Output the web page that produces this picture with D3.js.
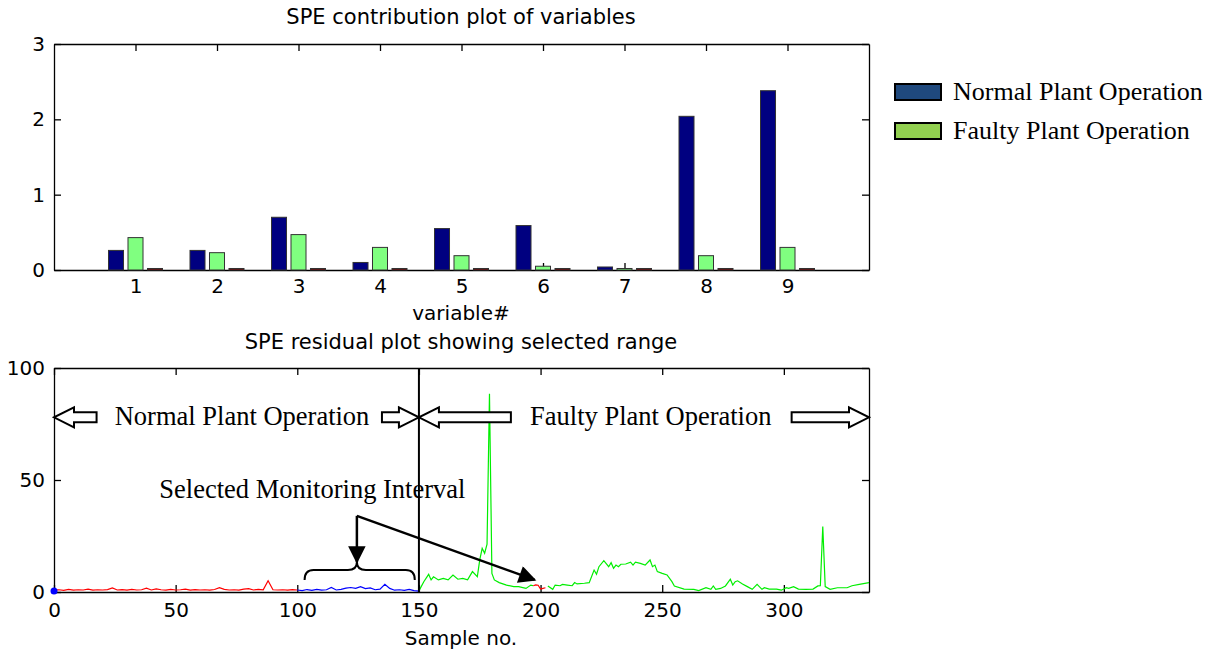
<!doctype html>
<html>
<head>
<script src="https://cdnjs.cloudflare.com/ajax/libs/d3/7.8.5/d3.min.js"></script>
<style>
  body { margin: 0; background: #fff; }
  .sans { font-family: "DejaVu Sans", sans-serif; fill: #000; }
  .serif { font-family: "Liberation Serif", "Times New Roman", serif; fill: #000; }
  .axis path, .axis line { stroke: #000; stroke-width: 1.3; }
  .axis text { font-family: "DejaVu Sans", sans-serif; font-size: 20px; fill: #000; }
</style>
</head>
<body>
<svg id="viz" width="1222" height="649"></svg>
<script>
// ---- top chart data: SPE contribution per variable
var variables = [1, 2, 3, 4, 5, 6, 7, 8, 9];
var normalContrib = [0.26, 0.26, 0.70, 0.10, 0.55, 0.59, 0.04, 2.04, 2.38];
var faultyContrib = [0.43, 0.23, 0.47, 0.30, 0.19, 0.05, 0.02, 0.19, 0.30];
var thirdContrib  = [0.02, 0.02, 0.02, 0.02, 0.02, 0.02, 0.02, 0.02, 0.02];
var barColors = ["#000080", "#80ff80", "#800000"];
var legendLabels = ["Normal Plant Operation", "Faulty Plant Operation"];
var legendColors = ["#1f497d", "#92d050"];
var topYTicks = [0, 1, 2, 3];

// ---- bottom chart data: SPE residual per sample
var redSamples = [0,2,4,6,8,10,12,14,16,18,20,22,24,26,28,30,32,34,36,38,40,42,44,46,48,50,52,54,56,58,60,62,64,66,68,70,72,74,76,78,80,82,84,86,88,90,92,94,96,98,100];
var redValues  = [0.8,1.0,0.7,1.2,0.8,1.0,0.9,1.3,0.8,1.0,0.9,1.1,1.8,0.9,1.1,0.8,1.2,0.9,1.0,1.7,0.9,1.4,1.0,0.8,1.2,0.9,1.0,1.3,0.8,1.1,0.9,1.0,0.8,1.1,1.9,1.2,0.9,1.0,0.8,1.3,1.5,0.9,1.2,1.0,5.0,1.0,0.9,1.0,0.8,1.1,0.9];
var blueSamples = [100,102,104,106,108,110,112,114,116,118,120,122,124,126,128,130,132,134,136,138,140,142,144,146,148,150];
var blueValues  = [0.9,0.6,1.1,0.7,1.2,0.8,1.0,2.0,0.9,1.2,1.7,2.0,1.6,2.4,1.5,1.8,1.0,1.3,3.4,1.6,0.8,1.0,0.7,1.2,0.6,0.4];
var greenSamplesA = [150,152,154,155,156,158,160,162,164,166,168,170,172,174,175,176,177,178,179,180,181,183,186,189,191,194,196,197];
var greenValuesA  = [0.5,4.6,7.9,5.4,6.8,5.4,6.1,5.4,7.6,5.7,6.1,5.4,9.1,6.8,14.3,19.5,17.3,21.4,88.5,8.3,5.4,4.2,3.1,2.4,2.4,1.6,3.1,2.8];
var markSamples = [197,198,199,200,201,202];
var markValues  = [2.8,3.2,3.0,1.3,1.6,1.9];
var greenSamplesB = [203,205,206,208,209,211,213,214,215,218,220,222,223,224,226,228,229,230,231,232,233,235,237,238,239,241,243,245,246,247,248,250,252,254,255,259,263,265,268,270,271,272,274,276,278,279,280,281,283,285,287,289,291,292,294,297,299,301,302,304,306,309,312,314,315,316,317,319,322,326,328,331,335];
var greenValuesB  = [2.7,1.2,3.1,2.8,3.4,3.1,2.8,4.2,3.6,3.9,4.2,9.8,7.9,11.3,14.0,11.3,13.1,10.6,12.0,11.3,12.4,12.5,13.3,12.0,13.3,12.8,12.0,14.3,11.3,12.0,9.1,8.3,7.6,4.6,2.7,1.3,1.2,0.6,1.9,1.2,2.7,1.2,1.6,2.7,5.7,3.1,4.6,5.0,3.6,2.4,1.2,3.4,1.2,1.9,1.3,1.3,0.8,1.9,1.6,2.4,1.3,1.2,1.3,2.7,2.8,29.2,2.4,1.2,1.9,1.9,2.8,3.4,4.2];
var bottomXTicks = [0, 50, 100, 150, 200, 250, 300];
var bottomYTicks = [0, 50, 100];
var faultStart = 150;

var svg = d3.select("#viz");

// ================= top chart =================
var xTop = d3.scaleLinear().domain([0, 10]).range([54, 869]);
var yTop = d3.scaleLinear().domain([0, 3]).range([270, 44]);
var sub = d3.scaleBand().domain([0, 1, 2]).range([-27, 27]).paddingInner(0.23);

svg.append("g").attr("class", "axis").attr("transform", "translate(0,270)")
  .call(d3.axisBottom(xTop).tickValues(variables).tickSize(-7).tickPadding(9).tickSizeOuter(0));
svg.append("g").attr("class", "axis").attr("transform", "translate(0,44)")
  .call(d3.axisTop(xTop).tickValues(variables).tickSize(-7).tickFormat("").tickSizeOuter(0));
svg.append("g").attr("class", "axis").attr("transform", "translate(54,0)")
  .call(d3.axisLeft(yTop).tickValues(topYTicks).tickFormat(d3.format("d")).tickSize(-7).tickPadding(9).tickSizeOuter(0));
svg.append("g").attr("class", "axis").attr("transform", "translate(869,0)")
  .call(d3.axisRight(yTop).tickValues(topYTicks).tickSize(-7).tickFormat("").tickSizeOuter(0));

var series = [normalContrib, faultyContrib, thirdContrib];
series.forEach(function(vals, si) {
  svg.append("g").selectAll("rect")
    .data(vals)
    .enter()
    .append("rect")
    .attr("x", (d, i) => xTop(variables[i]) + sub(si))
    .attr("width", sub.bandwidth())
    .attr("y", d => yTop(d))
    .attr("height", d => yTop(0) - yTop(d))
    .style("fill", barColors[si])
    .style("stroke", "#333")
    .style("stroke-width", 1);
});

svg.append("text").attr("class", "sans").attr("x", 461).attr("y", 24)
  .attr("text-anchor", "middle").style("font-size", "21px").text("SPE contribution plot of variables");
svg.append("text").attr("class", "sans").attr("x", 461).attr("y", 320)
  .attr("text-anchor", "middle").style("font-size", "20px").text("variable#");

// legend
var leg = svg.append("g").selectAll("g").data(legendLabels).enter().append("g")
  .attr("transform", (d, i) => "translate(895," + (84 + i * 39) + ")");
leg.append("rect").attr("width", 46).attr("height", 16)
  .style("fill", (d, i) => legendColors[i]).style("stroke", "#000").style("stroke-width", 2);
leg.append("text").attr("class", "serif").attr("x", 58).attr("y", 16)
  .style("font-size", "26px").text(d => d);

// ================= bottom chart =================
var xBot = d3.scaleLinear().domain([0, 335]).range([54, 869]);
var yBot = d3.scaleLinear().domain([0, 100]).range([592, 368]);

svg.append("g").attr("class", "axis").attr("transform", "translate(0,592)")
  .call(d3.axisBottom(xBot).tickValues(bottomXTicks).tickSize(-7).tickPadding(11).tickSizeOuter(0));
svg.append("g").attr("class", "axis").attr("transform", "translate(0,368)")
  .call(d3.axisTop(xBot).tickValues(bottomXTicks).tickSize(-7).tickFormat("").tickSizeOuter(0));
svg.append("g").attr("class", "axis").attr("transform", "translate(54,0)")
  .call(d3.axisLeft(yBot).tickValues(bottomYTicks).tickSize(-7).tickPadding(9).tickSizeOuter(0));
svg.append("g").attr("class", "axis").attr("transform", "translate(869,0)")
  .call(d3.axisRight(yBot).tickValues(bottomYTicks).tickSize(-7).tickFormat("").tickSizeOuter(0));

var line = d3.line().x(d => xBot(d[0])).y(d => yBot(d[1]));
function drawSeries(s, v, color) {
  svg.append("path").datum(d3.zip(s, v)).attr("d", line)
    .style("fill", "none").style("stroke", color).style("stroke-width", 1.2);
}
drawSeries(redSamples, redValues, "#ff0000");
drawSeries(blueSamples, blueValues, "#0000ff");
drawSeries(greenSamplesA, greenValuesA, "#00ee00");
drawSeries(markSamples, markValues, "#ff0000");
drawSeries(greenSamplesB, greenValuesB, "#00ee00");
svg.append("circle").attr("cx", xBot(redSamples[0])).attr("cy", yBot(0.5)).attr("r", 3.5)
  .style("fill", "#0000ff");

// fault start divider
svg.append("line").attr("x1", xBot(faultStart)).attr("x2", xBot(faultStart))
  .attr("y1", yBot(100)).attr("y2", yBot(0)).style("stroke", "#000").style("stroke-width", 2);

// block arrows
function blockArrow(x0, x1, y) {
  var dir = Math.sign(x1 - x0), head = 20, hh = 10, sh = 5;
  var xb = x1 - dir * head;
  return "M" + x0 + "," + (y - sh) + "L" + xb + "," + (y - sh) + "L" + xb + "," + (y - hh) +
    "L" + x1 + "," + y + "L" + xb + "," + (y + hh) + "L" + xb + "," + (y + sh) + "L" + x0 + "," + (y + sh) + "Z";
}
var arrowLevel = 78;
var blockArrows = [[17.5, 0], [134.8, 150], [187.8, 150], [303.2, 335]];
svg.append("g").selectAll("path").data(blockArrows).enter().append("path")
  .attr("d", d => blockArrow(xBot(d[0]), xBot(d[1]), yBot(arrowLevel)))
  .style("fill", "#fff").style("stroke", "#000").style("stroke-width", 2);

svg.append("text").attr("class", "serif").attr("x", xBot(77.3)).attr("y", yBot(74.5))
  .attr("text-anchor", "middle").style("font-size", "26.5px").text("Normal Plant Operation");
svg.append("text").attr("class", "serif").attr("x", xBot(245.3)).attr("y", yBot(74.5))
  .attr("text-anchor", "middle").style("font-size", "26.5px").text("Faulty Plant Operation");
svg.append("text").attr("class", "serif").attr("x", xBot(106.2)).attr("y", yBot(42))
  .attr("text-anchor", "middle").style("font-size", "26.5px").text("Selected Monitoring Interval");

// callout arrows
svg.append("defs").append("marker").attr("id", "tri")
  .attr("viewBox", "0 0 10 10").attr("refX", 9).attr("refY", 5)
  .attr("markerWidth", 7.5).attr("markerHeight", 7).attr("markerUnits", "strokeWidth")
  .attr("orient", "auto")
  .append("path").attr("d", "M0,0L10,5L0,10Z").style("fill", "#000");
var corner = [124.5, 34];
var callTargets = [[124.5, 13.4], [197.6, 5.4]];
callTargets.forEach(function(t) {
  svg.append("line").attr("x1", xBot(corner[0])).attr("y1", yBot(corner[1]))
    .attr("x2", xBot(t[0])).attr("y2", yBot(t[1]))
    .style("stroke", "#000").style("stroke-width", 2.5).attr("marker-end", "url(#tri)");
});

// curly brace over selected interval
function brace(x0, x1, xc, yb, ym, yt) {
  var r = 9;
  return "M" + x0 + "," + yb + "Q" + x0 + "," + ym + " " + (x0 + r) + "," + ym +
    "L" + (xc - r) + "," + ym + "Q" + xc + "," + ym + " " + xc + "," + yt +
    "Q" + xc + "," + ym + " " + (xc + r) + "," + ym +
    "L" + (x1 - r) + "," + ym + "Q" + x1 + "," + ym + " " + x1 + "," + yb;
}
svg.append("path")
  .attr("d", brace(xBot(103), xBot(148.3), xBot(124.5), yBot(5.4), yBot(9.8), yBot(13.4)))
  .style("fill", "none").style("stroke", "#000").style("stroke-width", 2);

svg.append("text").attr("class", "sans").attr("x", 461).attr("y", 349)
  .attr("text-anchor", "middle").style("font-size", "21px").text("SPE residual plot showing selected range");
svg.append("text").attr("class", "sans").attr("x", 461).attr("y", 645)
  .attr("text-anchor", "middle").style("font-size", "20px").text("Sample no.");
</script>
</body>
</html>
